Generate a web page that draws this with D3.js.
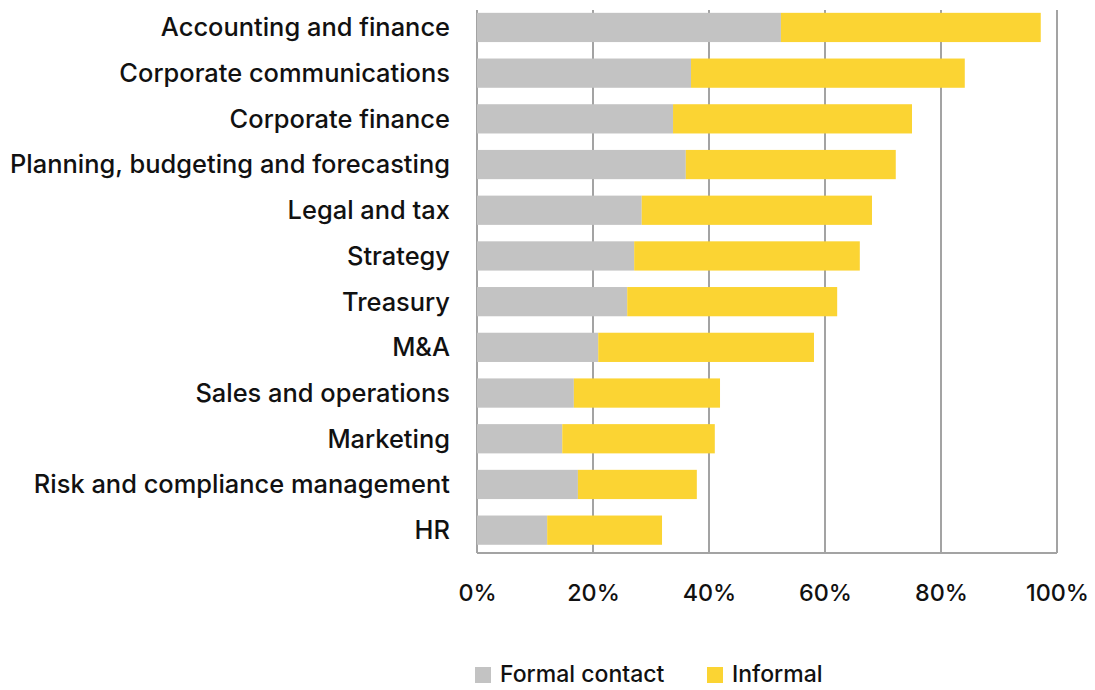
<!DOCTYPE html>
<html><head><meta charset="utf-8">
<script src="https://cdn.jsdelivr.net/npm/d3@7"></script>
<style>body{margin:0;background:#fff}svg{display:block}</style>
</head><body><svg id="c" width="1095" height="690"></svg>
<script>
const categories = ["Accounting and finance","Corporate communications","Corporate finance","Planning, budgeting and forecasting","Legal and tax","Strategy","Treasury","M&A","Sales and operations","Marketing","Risk and compliance management","HR"];
const formal = [52.4, 36.9, 33.8, 36.0, 28.4, 27.1, 25.9, 20.9, 16.7, 14.7, 17.4, 12.1];
const informal = [44.8, 47.2, 41.2, 36.2, 39.7, 38.9, 36.2, 37.2, 25.2, 26.3, 20.5, 19.8];
const seriesNames = ["Formal contact","Informal"];
const tickValues = [0, 20, 40, 60, 80, 100];
const colors = ["#c3c3c3","#fbd433"];

const svg = d3.select("#c");
const font = "Inter, 'DejaVu Sans', sans-serif";
const weight = 500;
const m = {left:477, right:1057, top:4.6, bottom:553};
const x = d3.scaleLinear().domain([0,100]).range([m.left, m.right]);
const y = d3.scaleBand().domain(categories).range([m.top, m.bottom]).paddingInner(0.36).paddingOuter(0.18);

function fitSize(str, target, base){
  const t = svg.append("text").attr("font-family", font).attr("font-weight", weight).attr("font-size", base).text(str);
  const w = t.node().getComputedTextLength(); t.remove();
  return base * target / w;
}
const labelSize = Math.min(25.5, fitSize("Planning, budgeting and forecasting", 440, 20));
const legendSize = Math.min(23, fitSize("Formal contact", 180, 20));
const tickSize = Math.min(24, fitSize("100%", 63, 20));

// gridlines
svg.append("g").selectAll("line").data(tickValues).join("line")
  .attr("x1", d=>x(d)).attr("x2", d=>x(d)).attr("y1", 10).attr("y2", m.bottom)
  .attr("stroke", "#a3a3a3").attr("stroke-width", 2);
svg.append("line").attr("x1", m.left).attr("x2", m.right).attr("y1", m.bottom).attr("y2", m.bottom)
  .attr("stroke", "#a3a3a3").attr("stroke-width", 2);

const data = categories.map((c,i)=>({cat:c, formal:formal[i], informal:informal[i]}));
const stack = d3.stack().keys(["formal","informal"])(data);
svg.append("g").selectAll("g").data(stack).join("g").attr("fill",(d,i)=>colors[i])
  .selectAll("rect").data(d=>d).join("rect")
  .attr("x", d=>x(d[0])).attr("width", d=>x(d[1])-x(d[0]))
  .attr("y", d=>y(d.data.cat)).attr("height", y.bandwidth());

// category labels
svg.append("g").selectAll("text").data(categories).join("text")
  .attr("x", 450).attr("y", d=>y(d)+y.bandwidth()/2).attr("dy","0.35em")
  .attr("text-anchor","end").attr("font-family", font).attr("font-weight", weight).attr("font-size", labelSize)
  .attr("fill","#111").text(d=>d);

// x axis labels
const xAxis = d3.axisBottom(x).tickValues(tickValues).tickFormat(d=>d+"%").tickSize(0).tickPadding(31);
const ax = svg.append("g").attr("transform",`translate(0,${m.bottom})`).call(xAxis);
ax.select(".domain").remove();
ax.selectAll("text").attr("font-family", font).attr("font-weight", weight).attr("font-size", tickSize).attr("fill","#111");

// legend
const leg = svg.append("g");
const legX = [475, 707];
seriesNames.forEach((s,i)=>{
  leg.append("rect").attr("x", legX[i]).attr("y", 667).attr("width", 16).attr("height", 16).attr("fill", colors[i]);
  leg.append("text").attr("x", legX[i]+25).attr("y", 674).attr("dy","0.35em")
    .attr("font-family", font).attr("font-weight", weight).attr("font-size", legendSize).attr("fill","#111").text(s);
});
</script></body></html>
